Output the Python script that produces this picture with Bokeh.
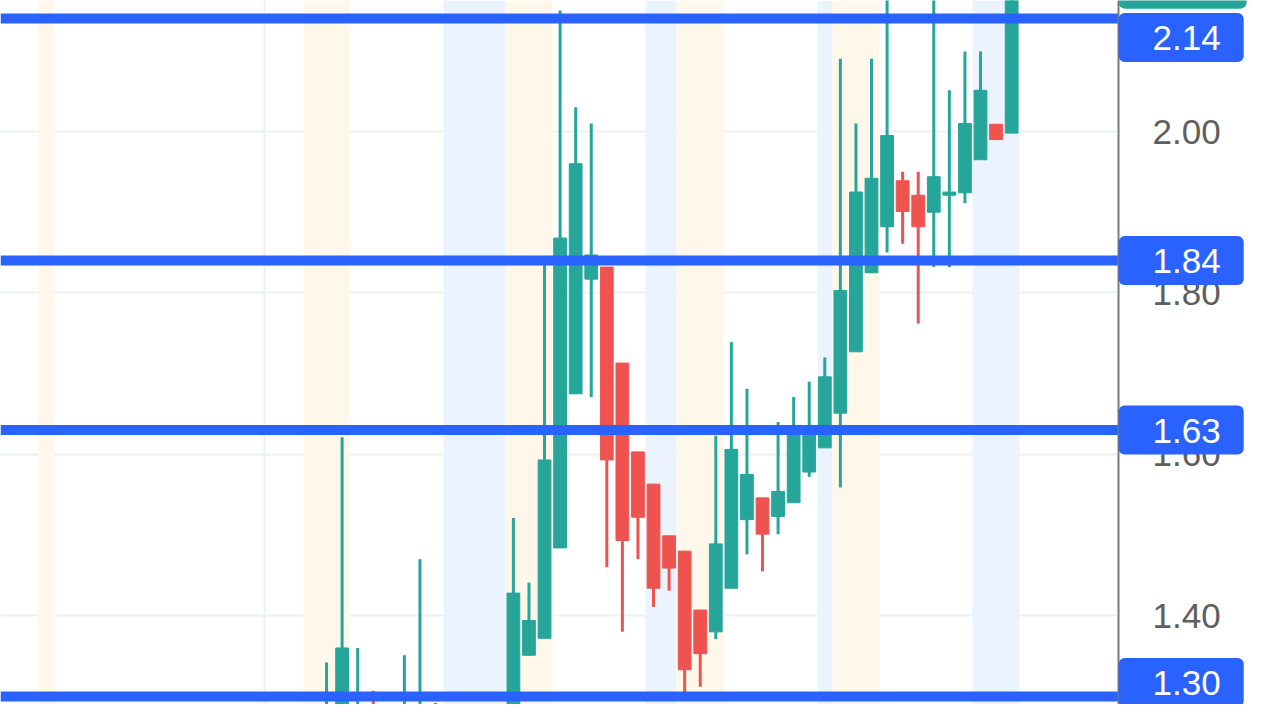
from bokeh.plotting import figure
from bokeh.models import Range1d, Label, FixedTicker, ColumnDataSource
from bokeh.core.properties import value
from bokeh.embed import file_html
from bokeh.resources import INLINE

# ---- data ----
idx = list(range(45))
opens = [1.220, 1.255, 1.250, 1.270, 1.260, 1.240, 1.250, 1.275, 1.270, 1.265, 1.265, 1.265,
         1.275, 1.351, 1.372, 1.484, 1.675, 1.817, 1.832, 1.713, 1.603, 1.563, 1.499, 1.480,
         1.407, 1.380, 1.434, 1.519, 1.546, 1.523, 1.540, 1.578, 1.608, 1.651, 1.727, 1.825,
         1.882, 1.939, 1.921, 1.900, 1.921, 1.924, 1.965, 2.009, 1.998]
highs = [1.342, 1.621, 1.360, 1.307, 1.275, 1.351, 1.470, 1.292, 1.281, 1.281, 1.280, 1.280,
         1.521, 1.441, 1.835, 2.150, 2.030, 2.010, 1.832, 1.713, 1.603, 1.563, 1.499, 1.480,
         1.407, 1.623, 1.739, 1.681, 1.546, 1.640, 1.671, 1.690, 1.720, 2.090, 2.010, 2.090,
         2.200, 1.950, 1.950, 2.200, 2.051, 2.099, 2.099, 2.009, 2.200]
lows = [1.210, 1.240, 1.240, 1.230, 1.220, 1.230, 1.240, 1.250, 1.250, 1.260, 1.260, 1.260,
        1.270, 1.351, 1.372, 1.484, 1.675, 1.671, 1.460, 1.380, 1.470, 1.411, 1.431, 1.304,
        1.312, 1.371, 1.434, 1.476, 1.455, 1.501, 1.540, 1.572, 1.608, 1.559, 1.727, 1.825,
        1.850, 1.861, 1.762, 1.832, 1.832, 1.911, 1.965, 1.990, 1.998]
closes = [1.265, 1.360, 1.290, 1.250, 1.240, 1.270, 1.290, 1.260, 1.260, 1.275, 1.280, 1.280,
          1.428, 1.394, 1.593, 1.868, 1.960, 1.847, 1.593, 1.493, 1.522, 1.434, 1.459, 1.333,
          1.353, 1.489, 1.606, 1.575, 1.501, 1.554, 1.625, 1.628, 1.696, 1.803, 1.925, 1.942,
          1.995, 1.901, 1.882, 1.944, 1.925, 2.010, 2.051, 1.990, 2.182]

levels = [2.14, 1.84, 1.63, 1.30]
level_texts = ["2.14", "1.84", "1.63", "1.30"]

tick_values = [1.40, 1.60, 1.80, 2.00]
tick_labels = ["1.40", "1.60", "1.80", "2.00"]

band_start = [-18.5, -1.5, 7.5, 11.5, 20.5, 22.5, 31.5, 32.5, 41.5]
band_end = [-17.5, 1.5, 11.5, 14.5, 22.5, 25.5, 32.5, 35.5, 44.5]
band_kind = ["am", "am", "pm", "am", "pm", "am", "pm", "am", "pm"]

vgrid_ticks = [-4]

# ---- layout / styles ----
UP = "#26A69A"
DOWN = "#EF5350"
LEVEL = "#2962FF"
BAND = {"am": "#FFF7EA", "pm": "#EAF3FE"}
GRID = "#EEF0F4"
FONT = "Liberation Sans"

PX_PER_UNIT = 807.0                 # vertical pixels per price unit
X_START, X_END = -20.94, 60.24      # visible candle-index range
AXIS_X = 50.87                      # price-scale edge (candle-index units)
TAG_RIGHT = 59.09                   # right edge of the price tags (candle-index units)
Y_END = 2.0 + 131 / PX_PER_UNIT
Y_START = 2.0 - 573 / PX_PER_UNIT
TAG_HALF = 24 / PX_PER_UNIT
LABEL_SHIFT = [-19, 0, 0, 14]       # tags nudged to stay inside the price scale

p = figure(width=1264, height=704, output_backend="svg", toolbar_location=None,
           x_axis_location=None, y_axis_location=None,
           x_range=Range1d(X_START, X_END), y_range=Range1d(Y_START, Y_END),
           min_border=0)
p.outline_line_color = None
p.background_fill_color = "white"

# session bands
for s, e, k in zip(band_start, band_end, band_kind):
    p.vstrip(x0=[s], x1=[e], fill_color=BAND[k], line_color=None)

# grids
p.ygrid.ticker = FixedTicker(ticks=tick_values)
p.ygrid.grid_line_color = GRID
p.ygrid.grid_line_width = 2
p.xgrid.ticker = FixedTicker(ticks=vgrid_ticks)
p.xgrid.grid_line_color = GRID
p.xgrid.grid_line_width = 2

# candles
colors = [UP if c >= o else DOWN for o, c in zip(opens, closes)]
src = ColumnDataSource(dict(
    x=idx, high=highs, low=lows,
    top=[max(o, c) for o, c in zip(opens, closes)],
    bottom=[min(o, c) for o, c in zip(opens, closes)],
    color=colors))
p.segment(x0="x", y0="low", x1="x", y1="high", line_color="color", line_width=3, source=src)
p.vbar(x="x", width=0.82, top="top", bottom="bottom", fill_color="color", line_color="color",
       line_width=1, source=src)

# horizontal levels
p.segment(x0=[X_START] * len(levels), y0=levels, x1=[AXIS_X] * len(levels), y1=levels,
          line_color=LEVEL, line_width=10)

# price scale
p.vstrip(x0=[AXIS_X], x1=[X_END], fill_color="white", line_color=None)
p.vspan(x=[AXIS_X], line_color="#7A7A7A", line_width=2)
p.text(x=[AXIS_X] * len(tick_values), y=tick_values, text=tick_labels, x_offset=34,
       text_align="left", text_baseline="middle", text_font=value(FONT),
       text_font_size="35px", text_color="#5E5E5E")

# live price tag (mostly above the visible area)
last = closes[-1]
p.quad(left=[AXIS_X], right=[TAG_RIGHT], bottom=[last - TAG_HALF], top=[last + TAG_HALF],
       fill_color=UP, line_color=None, border_radius=6)

for lv, txt, shift in zip(levels, level_texts, LABEL_SHIFT):
    p.add_layout(Label(x=AXIS_X, y=lv, text=txt, y_offset=shift,
                       text_align="left", text_baseline="middle",
                       text_color="white", text_font=FONT, text_font_size="35px",
                       background_fill_color=LEVEL,
                       padding=dict(left=34, right=23, top=13, bottom=12), border_radius=6))

open("out.html", "w").write(file_html(p, INLINE))
